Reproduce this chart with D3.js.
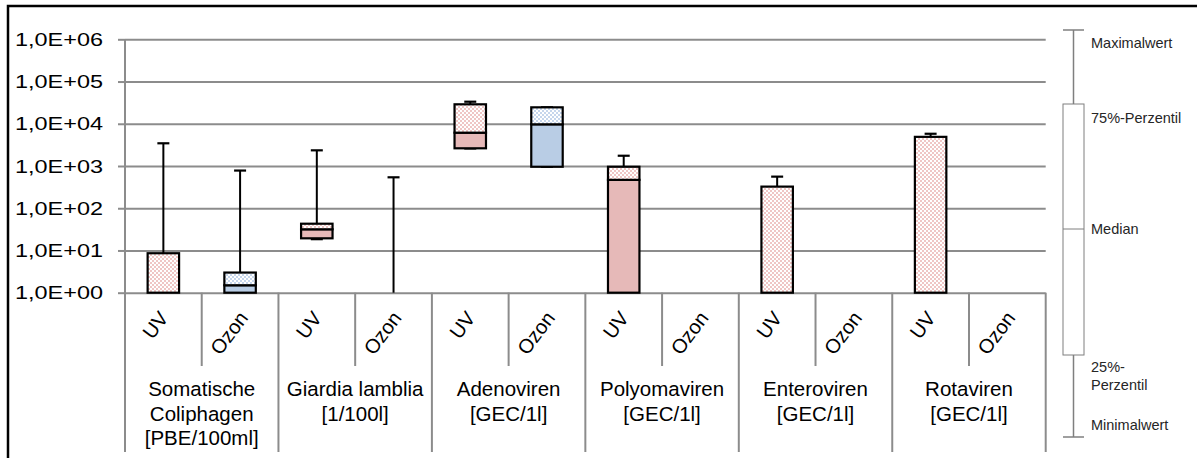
<!DOCTYPE html>
<html>
<head>
<meta charset="utf-8">
<script src="https://cdn.jsdelivr.net/npm/d3@7"></script>
<style>
  html, body { margin: 0; padding: 0; background: #fff; }
  svg { display: block; font-family: Arial, "Liberation Sans", sans-serif; }
</style>
</head>
<body>
<svg id="chart" width="1197" height="458"></svg>
<script>
// Parameter groups and their units
const groups = [
  ["Somatische", "Coliphagen", "[PBE/100ml]"],
  ["Giardia lamblia", "[1/100l]"],
  ["Adenoviren", "[GEC/1l]"],
  ["Polyomaviren", "[GEC/1l]"],
  ["Enteroviren", "[GEC/1l]"],
  ["Rotaviren", "[GEC/1l]"]
];
const treatments = ["UV", "Ozon"];

// Box statistics per group, UV then Ozon (null = no data)
const minVals    = [1,    1,    18.5, 1,    2600,  960,   1,    null, 1,    null, 1,    null];
const q1Vals     = [1,    1,    19.4, 1,    2625,  960,   1,    null, 1,    null, 1,    null];
const medianVals = [1,    1.5,  31.7, 1,    6150,  9700,  470,  null, 1,    null, 1,    null];
const q3Vals     = [8.6,  3.0,  43,   1,    28900, 24500, 960,  null, 325,  null, 4900, null];
const maxVals    = [3450, 780,  2350, 540,  33300, 24500, 1750, null, 560,  null, 5800, null];

const yTicks = [1, 10, 100, 1000, 10000, 100000, 1000000];
const yTickLabels = ["1,0E+00", "1,0E+01", "1,0E+02", "1,0E+03", "1,0E+04", "1,0E+05", "1,0E+06"];

const legendLabels = ["Maximalwert", "75%-Perzentil", "Median", ["25%-", "Perzentil"], "Minimalwert"];

const svg = d3.select("#chart");
const W = 1197, H = 458;

const plot = { left: 125, right: 1045.7, top: 39.3, bottom: 292.7 };

const subIds = [];
groups.forEach((g, gi) => treatments.forEach(t => subIds.push(gi + "-" + t)));

const x = d3.scaleBand().domain(subIds).range([plot.left, plot.right]).padding(0);
const y = d3.scaleLog().domain([1, 1e6]).range([plot.bottom, plot.top]);

const colors = {
  UV:   { solid: "#E6B9B8", dot: "#EFC6C5" },
  Ozon: { solid: "#B9CDE5", dot: "#C6D6EC" }
};

// Checkerboard dot patterns for the upper box halves
const defs = svg.append("defs");
treatments.forEach(t => {
  const p = defs.append("pattern")
    .attr("id", "pat-" + t)
    .attr("patternUnits", "userSpaceOnUse")
    .attr("width", 4).attr("height", 4);
  p.append("rect").attr("width", 4).attr("height", 4).attr("fill", "#fff");
  p.append("rect").attr("x", 0).attr("y", 0).attr("width", 2).attr("height", 2).attr("fill", colors[t].dot);
  p.append("rect").attr("x", 2).attr("y", 2).attr("width", 2).attr("height", 2).attr("fill", colors[t].dot);
});

// Outer frame
svg.append("path")
  .attr("d", `M8,${H} L8,6 L${W},6`)
  .attr("fill", "none").attr("stroke", "#000").attr("stroke-width", 2.5);

const gridColor = "#8C8C8C";

// Horizontal gridlines
svg.append("g")
  .attr("transform", `translate(${plot.left},0)`)
  .call(d3.axisLeft(y).tickValues(yTicks).tickSize(-(plot.right - plot.left)).tickFormat(""))
  .call(g => g.select(".domain").remove())
  .call(g => g.selectAll(".tick line").attr("stroke", gridColor).attr("stroke-width", 2));

// Left axis with tick marks and labels
const yAxis = svg.append("g")
  .attr("transform", `translate(${plot.left},0)`)
  .call(d3.axisLeft(y).tickValues(yTicks).tickSize(7).tickPadding(15)
        .tickFormat((d, i) => yTickLabels[i]));
yAxis.select(".domain").attr("stroke", gridColor).attr("stroke-width", 2).attr("d", `M0,${plot.top}V${plot.bottom}`);
yAxis.selectAll(".tick line").attr("stroke", gridColor).attr("stroke-width", 2);
yAxis.selectAll(".tick text")
  .attr("font-size", 19).attr("fill", "#000")
  .attr("font-family", "Arial, 'Liberation Sans', sans-serif")
  .attr("textLength", 88).attr("lengthAdjust", "spacingAndGlyphs");

// Category separators below the axis
const sepShortEnd = 366, sepLongEnd = 452;
const boundaries = d3.range(subIds.length + 1).map(i =>
  i < subIds.length ? x(subIds[i]) : plot.right);
svg.append("g").selectAll("line").data(boundaries).join("line")
  .attr("x1", d => d).attr("x2", d => d)
  .attr("y1", (d, i) => i === 0 ? plot.top : plot.bottom)
  .attr("y2", (d, i) => i % 2 === 0 ? sepLongEnd : sepShortEnd)
  .attr("stroke", gridColor).attr("stroke-width", 2);

// Treatment labels, rotated
const subLabels = svg.append("g");
subIds.forEach((id, i) => {
  const t = treatments[i % 2];
  const cx = x(id) + x.bandwidth() / 2;
  const tx = t === "UV" ? cx - 8 : cx - 11;
  const ty = t === "UV" ? 325 : 333;
  subLabels.append("text")
    .attr("transform", `translate(${tx},${ty}) rotate(-53)`)
    .attr("text-anchor", "middle").attr("dominant-baseline", "central")
    .attr("font-size", 20).attr("fill", "#000")
    .text(t);
});

// Group labels
const groupLabels = svg.append("g");
groups.forEach((lines, gi) => {
  const gx = x(gi + "-UV") + x.bandwidth();
  const txt = groupLabels.append("text")
    .attr("text-anchor", "middle").attr("font-size", 20.5).attr("fill", "#000");
  lines.forEach((ln, li) => {
    txt.append("tspan").attr("x", gx).attr("y", 396 + li * 24.5).text(ln);
  });
});

// Boxes and whiskers
const boxW = x.bandwidth() * 0.41;
const capW = 12;
const boxes = svg.append("g");
subIds.forEach((id, i) => {
  if (q3Vals[i] == null) return;
  const t = treatments[i % 2];
  const cx = x(id) + x.bandwidth() / 2;
  const g = boxes.append("g");
  const yMin = y(minVals[i]), yQ1 = y(q1Vals[i]), yMed = y(medianVals[i]),
        yQ3 = y(q3Vals[i]), yMax = y(maxVals[i]);

  // whiskers
  if (maxVals[i] > q3Vals[i]) {
    g.append("line").attr("x1", cx).attr("x2", cx).attr("y1", yQ3).attr("y2", yMax)
      .attr("stroke", "#000").attr("stroke-width", 2);
  }
  if (maxVals[i] > 1) {
    g.append("line").attr("x1", cx - capW / 2).attr("x2", cx + capW / 2).attr("y1", yMax).attr("y2", yMax)
      .attr("stroke", "#000").attr("stroke-width", 2.2);
  }
  if (minVals[i] < q1Vals[i]) {
    g.append("line").attr("x1", cx).attr("x2", cx).attr("y1", yQ1).attr("y2", yMin)
      .attr("stroke", "#000").attr("stroke-width", 2);
  }
  if (minVals[i] > 1) {
    g.append("line").attr("x1", cx - capW / 2).attr("x2", cx + capW / 2).attr("y1", yMin).attr("y2", yMin)
      .attr("stroke", "#000").attr("stroke-width", 2.2);
  }

  // lower half (Q1 to median), solid
  if (medianVals[i] > q1Vals[i]) {
    g.append("rect").attr("x", cx - boxW / 2).attr("width", boxW)
      .attr("y", yMed).attr("height", yQ1 - yMed)
      .attr("fill", colors[t].solid).attr("stroke", "#000").attr("stroke-width", 2.2);
  }
  // upper half (median to Q3), dotted
  if (q3Vals[i] > medianVals[i]) {
    g.append("rect").attr("x", cx - boxW / 2).attr("width", boxW)
      .attr("y", yQ3).attr("height", yMed - yQ3)
      .attr("fill", `url(#pat-${t})`).attr("stroke", "#000").attr("stroke-width", 2.2);
  }
});

// Explanatory box diagram on the right
const lg = svg.append("g");
const legendColor = "#7F7F7F";
const lx = 1073.5, lw = 21;
const lTop = 30, lQ3 = 104, lMed = 229, lQ1 = 355, lBot = 437;
lg.append("line").attr("x1", lx).attr("x2", lx).attr("y1", lTop).attr("y2", lQ3)
  .attr("stroke", legendColor).attr("stroke-width", 1.5);
lg.append("line").attr("x1", lx).attr("x2", lx).attr("y1", lQ1).attr("y2", lBot)
  .attr("stroke", legendColor).attr("stroke-width", 1.5);
lg.append("line").attr("x1", lx - lw / 2).attr("x2", lx + lw / 2).attr("y1", lTop).attr("y2", lTop)
  .attr("stroke", legendColor).attr("stroke-width", 1.5);
lg.append("line").attr("x1", lx - lw / 2).attr("x2", lx + lw / 2).attr("y1", lBot).attr("y2", lBot)
  .attr("stroke", legendColor).attr("stroke-width", 1.5);
lg.append("rect").attr("x", lx - lw / 2).attr("y", lQ3).attr("width", lw).attr("height", lQ1 - lQ3)
  .attr("fill", "#fff").attr("stroke", legendColor).attr("stroke-width", 1);
lg.append("line").attr("x1", lx - lw / 2).attr("x2", lx + lw / 2).attr("y1", lMed).attr("y2", lMed)
  .attr("stroke", legendColor).attr("stroke-width", 1);

const legendY = [43, 118, 229, 367, 425];
legendLabels.forEach((lab, i) => {
  const t = lg.append("text").attr("font-size", 14.5).attr("fill", "#262626")
    .attr("dominant-baseline", "central");
  if (Array.isArray(lab)) {
    lab.forEach((ln, k) => t.append("tspan").attr("x", 1091).attr("y", legendY[i] + k * 18).text(ln));
  } else {
    t.attr("x", 1091).attr("y", legendY[i]).text(lab);
  }
});
</script>
</body>
</html>
